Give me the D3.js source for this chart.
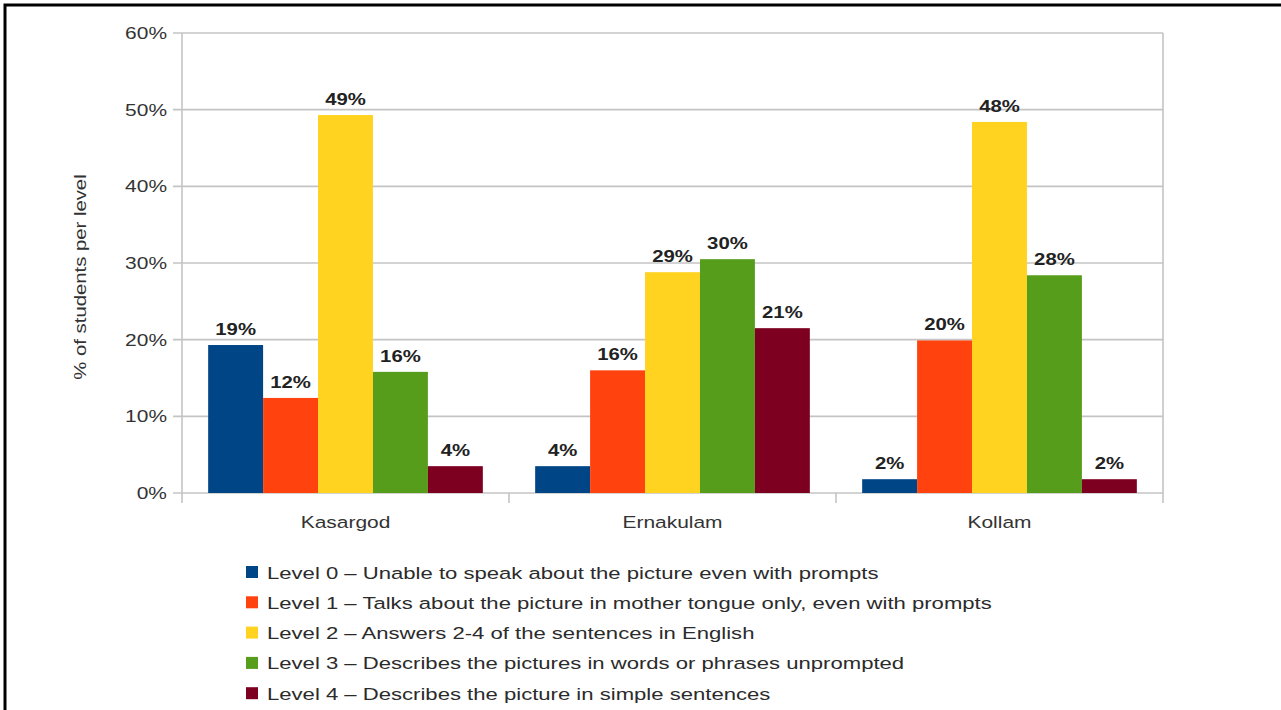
<!DOCTYPE html>
<html>
<head>
<meta charset="utf-8">
<script src="https://cdn.jsdelivr.net/npm/d3@7"></script>
<style>
  body { margin: 0; background: #fff; }
  svg { display: block; font-family: "Liberation Sans", Arial, sans-serif; }
</style>
</head>
<body>
<svg id="chart"></svg>
<script>
// data
const districts = ["Kasargod", "Ernakulam", "Kollam"];
const levels = [
    "Level 0 \u2013 Unable to speak about the picture even with prompts",
    "Level 1 \u2013 Talks about the picture in mother tongue only, even with prompts",
    "Level 2 \u2013 Answers 2-4 of the sentences in English",
    "Level 3 \u2013 Describes the pictures in words or phrases unprompted",
    "Level 4 \u2013 Describes the picture in simple sentences"
];
const level0 = [19.3, 3.5, 1.8];
const level1 = [12.4, 16.0, 19.9];
const level2 = [49.3, 28.8, 48.4];
const level3 = [15.8, 30.5, 28.4];
const level4 = [3.5, 21.5, 1.8];
const valueLabels = [
    ["19%", "4%", "2%"],
    ["12%", "16%", "20%"],
    ["49%", "29%", "48%"],
    ["16%", "30%", "28%"],
    ["4%", "21%", "2%"]
];
const yTicks = [0, 10, 20, 30, 40, 50, 60];
const colors = ["#004586", "#ff420e", "#ffd320", "#579d1c", "#7e0021"];

const series = [level0, level1, level2, level3, level4];

const width = 1281, height = 710;
const margin = { top: 33, right: 118, bottom: 217, left: 182 };
const SX = 1.27; // text in the picture is drawn wide

const svg = d3.select("#chart")
    .attr("width", width)
    .attr("height", height);

// frame round the picture (top and left edges only)
svg.append("path")
    .attr("d", `M5,${height} V5 H${width}`)
    .attr("fill", "none")
    .attr("stroke", "#000")
    .attr("stroke-width", 3);

const x0 = d3.scaleBand()
    .domain(districts)
    .range([margin.left, width - margin.right])
    .paddingInner(0.16)
    .paddingOuter(0.08);

const x1 = d3.scaleBand()
    .domain(d3.range(series.length))
    .range([0, x0.bandwidth()]);

const y = d3.scaleLinear()
    .domain([0, 60])
    .range([height - margin.bottom, margin.top]);

// grid lines
svg.append("g")
   .selectAll("line")
   .data(yTicks)
   .enter()
   .append("line")
   .attr("x1", margin.left - 9)
   .attr("x2", width - margin.right)
   .attr("y1", d => y(d))
   .attr("y2", d => y(d))
   .attr("stroke", "#c4c4c4")
   .attr("stroke-width", 1.6);

// vertical frame lines and category ticks
const step = x0.step();
const catEdges = d3.range(districts.length + 1).map(i => margin.left + i * step);
svg.append("g")
   .selectAll("line")
   .data(catEdges)
   .enter()
   .append("line")
   .attr("x1", d => d)
   .attr("x2", d => d)
   .attr("y1", (d, i) => (i === 0 || i === districts.length) ? margin.top : y(0))
   .attr("y2", y(0) + 10)
   .attr("stroke", "#c4c4c4")
   .attr("stroke-width", 1.6);

// y tick labels
svg.append("g")
   .selectAll("text")
   .data(yTicks)
   .enter()
   .append("text")
   .attr("transform", d => `translate(${margin.left - 15},${y(d) + 6}) scale(${SX},1)`)
   .attr("text-anchor", "end")
   .attr("font-size", "16.5px")
   .attr("fill", "#333")
   .text(d => d + "%");

// y axis title
svg.append("text")
   .attr("transform", `translate(86,${(y(0) + y(60)) / 2 + 14}) rotate(-90) scale(${SX},1)`)
   .attr("text-anchor", "middle")
   .attr("font-size", "16px")
   .attr("fill", "#333")
   .text("% of students per level");

// category labels
svg.append("g")
   .selectAll("text")
   .data(districts)
   .enter()
   .append("text")
   .attr("transform", d => `translate(${x0(d) + x0.bandwidth() / 2},${y(0) + 35}) scale(${SX},1)`)
   .attr("text-anchor", "middle")
   .attr("font-size", "16.5px")
   .attr("fill", "#333")
   .text(d => d);

// bars
const groups = svg.append("g")
   .selectAll("g")
   .data(districts)
   .enter()
   .append("g")
   .attr("transform", d => `translate(${x0(d)},0)`);

groups.selectAll("rect")
   .data((d, i) => series.map((s, k) => ({ k: k, v: s[i] })))
   .enter()
   .append("rect")
   .attr("x", d => x1(d.k))
   .attr("y", d => y(d.v))
   .attr("width", x1.bandwidth())
   .attr("height", d => y(0) - y(d.v))
   .attr("fill", d => colors[d.k]);

// value labels
groups.selectAll("text")
   .data((d, i) => series.map((s, k) => ({ k: k, v: s[i], label: valueLabels[k][i] })))
   .enter()
   .append("text")
   .attr("transform", d => `translate(${x1(d.k) + x1.bandwidth() / 2},${y(d.v) - 10}) scale(${SX},1)`)
   .attr("text-anchor", "middle")
   .attr("font-size", "16px")
   .attr("font-weight", "bold")
   .attr("fill", "#222")
   .text(d => d.label);

// legend
const legend = svg.append("g")
   .attr("transform", "translate(246,566)");

const rows = legend.selectAll("g")
   .data(levels)
   .enter()
   .append("g")
   .attr("transform", (d, i) => `translate(0,${i * 30.3})`);

rows.append("rect")
   .attr("width", 12)
   .attr("height", 12)
   .attr("fill", (d, i) => colors[i]);

rows.append("text")
   .attr("transform", `translate(21,12.5) scale(1.3,1)`)
   .attr("font-size", "17px")
   .attr("fill", "#2b2b2b")
   .text(d => d);
</script>
</body>
</html>
